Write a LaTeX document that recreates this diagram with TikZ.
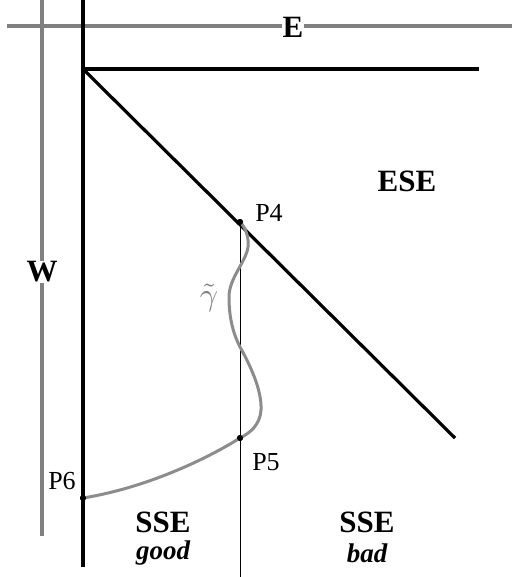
\documentclass[tikz,border=0pt]{standalone}
\usepackage{fontspec}
\setmainfont{Liberation Serif}
\usepackage{amsmath}
\usepackage{graphicx}
\usepackage{tikz}
\usetikzlibrary{positioning, calc}
\definecolor{AxisGray}{RGB}{128,128,128}
\definecolor{PathGray}{RGB}{140,140,140}

\begin{document}
\begin{tikzpicture}[x=1pt, y=-1pt,
	gl/.style={line width=3.2pt, AxisGray},
	bl/.style={line width=3.2pt, black},
	tl/.style={line width=0.9pt, black},
	gam/.style={line width=3pt, PathGray},
	pt/.style={circle, fill=black, minimum size=6pt, inner sep=0pt},
	big/.style={font=\fontsize{31}{31}\selectfont\bfseries, inner sep=1pt},
	sub/.style={font=\fontsize{27}{27}\selectfont\bfseries\itshape, inner sep=0pt},
	plbl/.style={font=\fontsize{26}{26}\selectfont, inner sep=0pt}]

	\useasboundingbox (0,0) rectangle (512,577);

	\coordinate (wtop) at (42,0);
	\coordinate (wbot) at (42,536);
	\coordinate (el)   at (7,26);
	\coordinate (er)   at (512,26);
	\coordinate (btop) at (83,0);
	\coordinate (bbot) at (83,567);
	\coordinate (O)    at (83,69);
	\coordinate (hr)   at (479,69);
	\coordinate (dg)   at (455,438);
	\coordinate (vbot) at (240,577);

	\draw[gl] (wtop) -- (wbot);
	\draw[gl] (el) -- (er);
	\node[big, fill=white] (E) at (293,27) {E};
	\node[big, fill=white] (W) at (42,272) {W};

	\draw[bl] (btop) -- (bbot);
	\draw[bl] (O) -- (hr);
	\draw[bl] (O) -- (dg);

	\node[pt] (P4) at (240,222) {};
	\node[pt] (P5) at (240,438) {};
	\node[pt] (P6) at (83,498) {};

	\draw[tl] (P4.center) -- (vbot);

	\draw[gam] (P4.center) .. controls (246,228) and (249,238) .. (248,247)
		.. controls (246,262) and (229,278) .. (229,297)
		.. controls (229,320) and (234,335) .. (240,347)
		.. controls (250,365) and (262,390) .. (261,410)
		.. controls (260,425) and (250,433) .. (P5.center)
		.. controls (205,460) and (145,488) .. (P6.center);

	\node[pt] at (P4) {};
	\node[pt] at (P5) {};
	\node[pt] at (P6) {};

	\node[plbl] (p4l) at (269,213) {P4};
	\node[plbl] (p5l) at (266,462) {P5};
	\node[plbl] (p6l) at (62,481) {P6};
	\node[text=AxisGray] (gl) at (209,298) {\scalebox{3.2}{$\tilde{\gamma}$}};

	\node[big] (ese) at (407,181) {ESE};
	\node[big] (sseg) at (163,522) {SSE};
	\node[sub] (good) at (163,553) {good};
	\node[big] (sseb) at (367,522) {SSE};
	\node[sub] (bad) at (367,553) {bad};
\end{tikzpicture}
\end{document}
